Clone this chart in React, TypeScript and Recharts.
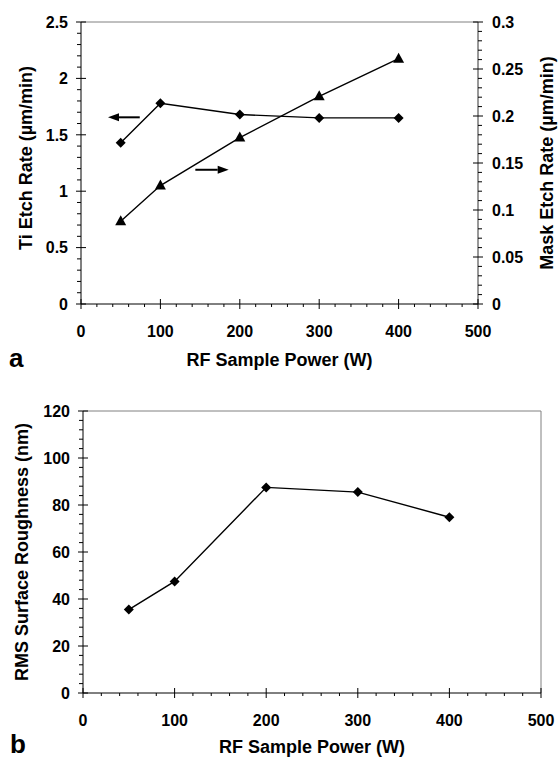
import React from 'react'
import { ComposedChart, LineChart, Line, XAxis, YAxis, ReferenceLine, Label } from 'recharts'

const power = [50, 100, 200, 300, 400]
const tiEtchRate = [1.43, 1.78, 1.68, 1.65, 1.65]
const maskEtchRate = [0.088, 0.126, 0.177, 0.221, 0.261]
const rmsRoughness = [35.5, 47.5, 87.5, 85.5, 74.8]

const powerTicks = [0, 100, 200, 300, 400, 500]
const tiTicks = [0, 0.5, 1, 1.5, 2, 2.5]
const maskTicks = [0, 0.05, 0.1, 0.15, 0.2, 0.25, 0.3]
const rmsTicks = [0, 20, 40, 60, 80, 100, 120]

// arrows that tell which curve belongs to which axis (power from -> to, Ti axis value)
const tiArrow = { from: 74, to: 34, y: 1.655 }
const maskArrow = { from: 144, to: 186, y: 1.19 }

const FONT = '"Liberation Sans", Arial, sans-serif'
const INK = '#000'

const etchData = power.map((p, i) => ({ power: p, ti: tiEtchRate[i], mask: maskEtchRate[i] }))
const rmsData = power.map((p, i) => ({ power: p, rms: rmsRoughness[i] }))

// majors plus 4 minor ticks in between each pair
function withMinor(major: number[], parts = 5) {
  const out: number[] = []
  for (let i = 0; i < major.length - 1; i++) {
    const step = (major[i + 1] - major[i]) / parts
    for (let k = 0; k < parts; k++) out.push(+(major[i] + k * step).toFixed(4))
  }
  out.push(major[major.length - 1])
  return out
}

const tickText = { fontFamily: FONT, fontWeight: 'bold' as const, fontSize: 16, fill: INK }
const titleStyle = { fontFamily: FONT, fontWeight: 'bold' as const, fontSize: 18, fill: INK, textAnchor: 'middle' as const }

function bottomTick(majors: number[]) {
  return (props: any) => {
    const { x, y, payload } = props
    const major = majors.includes(payload.value)
    return (
      <g>
        <line x1={x} x2={x} y1={major ? y - 5 : y} y2={y + (major ? 5 : 3)} stroke={INK} strokeWidth={1} />
        {major && (
          <text x={x} y={y + 33} textAnchor="middle" {...tickText}>
            {payload.value}
          </text>
        )}
      </g>
    )
  }
}

function leftTick(majors: number[]) {
  return (props: any) => {
    const { x, y, payload } = props
    const major = majors.includes(payload.value)
    return (
      <g>
        <line x1={x - (major ? 5 : 4)} x2={major ? x + 5 : x} y1={y} y2={y} stroke={INK} strokeWidth={1} />
        {major && (
          <text x={x - 13} y={y} dy="0.36em" textAnchor="end" {...tickText}>
            {payload.value}
          </text>
        )}
      </g>
    )
  }
}

function rightTick(majors: number[]) {
  return (props: any) => {
    const { x, y, payload } = props
    const major = majors.includes(payload.value)
    return (
      <g>
        <line x1={major ? x - 5 : x} x2={x + (major ? 5 : 4)} y1={y} y2={y} stroke={INK} strokeWidth={1} />
        {major && (
          <text x={x + 14} y={y} dy="0.36em" textAnchor="start" {...tickText}>
            {payload.value}
          </text>
        )}
      </g>
    )
  }
}

// rotated axis title, centred on the axis, at a fixed x
function vTitle(text: string, cx: number, shift = 0) {
  return (props: any) => {
    const vb = props.viewBox
    const cy = vb.y + vb.height / 2 + shift
    return (
      <text x={cx} y={cy} dy="0.36em" transform={`rotate(-90 ${cx} ${cy})`} {...titleStyle}>
        {text}
      </text>
    )
  }
}

function diamond(p: any) {
  const { cx, cy, index } = p
  const r = 5
  return <polygon key={`d${index}`} points={`${cx},${cy - r} ${cx + r},${cy} ${cx},${cy + r} ${cx - r},${cy}`} fill={INK} />
}

function triangle(p: any) {
  const { cx, cy, index } = p
  return <polygon key={`t${index}`} points={`${cx},${cy - 6} ${cx + 5.5},${cy + 4} ${cx - 5.5},${cy + 4}`} fill={INK} />
}

function Arrow(p: any) {
  const { x1, y1, x2, y2 } = p
  const dir = x2 > x1 ? 1 : -1
  const head = 11
  return (
    <g>
      <line x1={x1} y1={y1} x2={x2 - dir * head} y2={y2} stroke={INK} strokeWidth={2} />
      <polygon points={`${x2},${y2} ${x2 - dir * head},${y2 - 4} ${x2 - dir * head},${y2 + 4}`} fill={INK} />
    </g>
  )
}

function EtchChart() {
  return (
    <ComposedChart width={558} height={380} data={etchData} margin={{ top: 22, right: 0, bottom: 0, left: 0 }}>
      <XAxis
        dataKey="power"
        type="number"
        domain={[0, 500]}
        ticks={withMinor(powerTicks)}
        interval={0}
        tickSize={0}
        tickMargin={0}
        tickLine={false}
        tick={bottomTick(powerTicks)}
        height={76}
        axisLine={{ stroke: INK }}
        label={{ value: 'RF Sample Power (W)', position: 'insideBottom', offset: 14, style: titleStyle }}
      />
      <YAxis
        yAxisId="left"
        domain={[0, 2.5]}
        ticks={withMinor(tiTicks)}
        interval={0}
        tickSize={0}
        tickMargin={0}
        tickLine={false}
        tick={leftTick(tiTicks)}
        width={81}
        axisLine={{ stroke: INK }}
      >
        <Label content={vTitle('Ti Etch Rate (µm/min)', 26, -5)} />
      </YAxis>
      <YAxis
        yAxisId="right"
        orientation="right"
        domain={[0, 0.3]}
        ticks={withMinor(maskTicks)}
        interval={0}
        tickSize={0}
        tickMargin={0}
        tickLine={false}
        tick={rightTick(maskTicks)}
        width={80}
        axisLine={{ stroke: '#333' }}
      >
        <Label content={vTitle('Mask Etch Rate (µm/min)', 547)} />
      </YAxis>
      <ReferenceLine yAxisId="left" y={2.5} stroke="#808080" />
      <Line yAxisId="left" dataKey="ti" stroke={INK} strokeWidth={1.4} dot={diamond} isAnimationActive={false} />
      <Line yAxisId="right" dataKey="mask" stroke={INK} strokeWidth={1.4} dot={triangle} isAnimationActive={false} />
      <ReferenceLine
        yAxisId="left"
        segment={[{ x: tiArrow.from, y: tiArrow.y }, { x: tiArrow.to, y: tiArrow.y }]}
        shape={Arrow}
      />
      <ReferenceLine
        yAxisId="left"
        segment={[{ x: maskArrow.from, y: maskArrow.y }, { x: maskArrow.to, y: maskArrow.y }]}
        shape={Arrow}
      />
    </ComposedChart>
  )
}

function RoughnessChart() {
  return (
    <LineChart width={558} height={380} data={rmsData} margin={{ top: 31, right: 17, bottom: 0, left: 0 }}>
      <XAxis
        dataKey="power"
        type="number"
        domain={[0, 500]}
        ticks={withMinor(powerTicks)}
        interval={0}
        tickSize={0}
        tickMargin={0}
        tickLine={false}
        tick={bottomTick(powerTicks)}
        height={67}
        axisLine={{ stroke: INK }}
        label={{ value: 'RF Sample Power (W)', position: 'insideBottom', offset: 7, style: titleStyle }}
      />
      <YAxis
        domain={[0, 120]}
        ticks={withMinor(rmsTicks)}
        interval={0}
        tickSize={0}
        tickMargin={0}
        tickLine={false}
        tick={leftTick(rmsTicks)}
        width={83}
        axisLine={{ stroke: INK }}
      >
        <Label content={vTitle('RMS Surface Roughness (nm)', 22)} />
      </YAxis>
      <ReferenceLine y={120} stroke="#808080" />
      <ReferenceLine x={500} stroke="#808080" />
      <Line dataKey="rms" stroke={INK} strokeWidth={1.4} dot={diamond} isAnimationActive={false} />
    </LineChart>
  )
}

export default function App() {
  return (
    <div style={{ position: 'absolute', left: 0, top: 0, width: 558, height: 760, background: '#fff' }}>
      <div style={{ position: 'absolute', left: 0, top: 0 }}>
        <EtchChart />
      </div>
      <div style={{ position: 'absolute', left: 0, top: 380 }}>
        <RoughnessChart />
      </div>
      <svg width={558} height={760} style={{ position: 'absolute', left: 0, top: 0, pointerEvents: 'none' }}>
        <text x={9} y={367} fontFamily={FONT} fontWeight="bold" fontSize={26} fill={INK}>a</text>
        <text x={10} y={753} fontFamily={FONT} fontWeight="bold" fontSize={26} fill={INK}>b</text>
      </svg>
    </div>
  )
}
